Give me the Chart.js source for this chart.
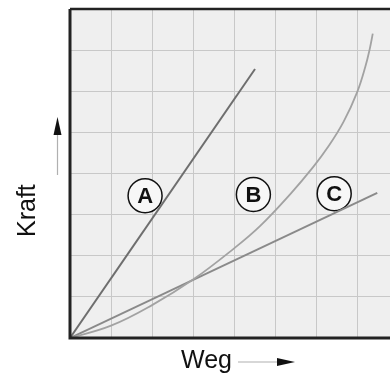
<!DOCTYPE html>
<html>
<head>
<meta charset="utf-8">
<script src="https://cdn.jsdelivr.net/npm/chart.js@4/dist/chart.umd.min.js"></script>
<style>
    html, body { margin: 0; padding: 0; background: #ffffff; }
    #wrap { width: 390px; height: 374px; }
</style>
</head>
<body>
<div id="wrap"><canvas id="kraftWeg" width="390" height="374"></canvas></div>
<script>
// Kraft-Weg curves, in grid units
var lineAx = [0, 4.51];
var lineAy = [0, 6.54];

var lineBx = [0, 1.0, 2.0, 3.0, 4.0, 4.63, 5.37, 5.93, 6.3, 6.67, 7.0, 7.2, 7.3, 7.38];
var lineBy = [0, 0.3, 0.8, 1.42, 2.18, 2.72, 3.5, 4.16, 4.66, 5.26, 5.98, 6.6, 7.0, 7.4];

var lineCx = [0, 7.49];
var lineCy = [0, 3.53];

var markerNames = ['A', 'B', 'C'];
var markerX = [1.83, 4.47, 6.44];
var markerY = [3.46, 3.49, 3.51];

var xTitle = 'Weg';
var yTitle = 'Kraft';

function toPoints(xs, ys) {
    var pts = [];
    xs.forEach(function (v, i) {
        pts.push({x: v, y: ys[i]});
    });
    return pts;
}

var plotBg = {
    id: 'plotBg',
    beforeDraw: function (chart) {
        var a = chart.chartArea;
        var ctx = chart.ctx;
        ctx.save();
        ctx.fillStyle = '#efefef';
        ctx.fillRect(a.left, a.top, a.right - a.left, a.bottom - a.top);
        ctx.restore();
    }
};

var frameAndTitles = {
    id: 'frameAndTitles',
    afterDatasetsDraw: function (chart) {
        var a = chart.chartArea;
        var ctx = chart.ctx;
        ctx.save();

        // frame: heavy left/bottom, lighter top
        ctx.strokeStyle = '#222222';
        ctx.lineWidth = 3;
        ctx.beginPath();
        ctx.moveTo(a.left, a.top);
        ctx.lineTo(a.left, a.bottom);
        ctx.lineTo(a.right, a.bottom);
        ctx.stroke();
        ctx.lineWidth = 2.5;
        ctx.beginPath();
        ctx.moveTo(a.left, a.top);
        ctx.lineTo(a.right, a.top);
        ctx.stroke();

        // marker letters
        var meta = chart.getDatasetMeta(3);
        ctx.fillStyle = '#111111';
        ctx.font = 'bold 22px "Liberation Sans", Arial, sans-serif';
        ctx.textAlign = 'center';
        ctx.textBaseline = 'middle';
        meta.data.forEach(function (el, i) {
            ctx.fillText(markerNames[i], el.x, el.y + 1);
        });

        // axis titles
        ctx.font = '25px "Liberation Sans", Arial, sans-serif';
        ctx.fillStyle = '#111111';
        ctx.textAlign = 'left';
        ctx.textBaseline = 'alphabetic';
        ctx.fillText(xTitle, 181, 368);

        ctx.save();
        ctx.translate(35, 237);
        ctx.rotate(-Math.PI / 2);
        ctx.fillText(yTitle, 0, 0);
        ctx.restore();

        // arrows
        ctx.strokeStyle = '#b0b0b0';
        ctx.lineWidth = 1.2;
        ctx.beginPath();
        ctx.moveTo(238, 362);
        ctx.lineTo(278, 362);
        ctx.moveTo(57.5, 175);
        ctx.lineTo(57.5, 134);
        ctx.stroke();

        ctx.fillStyle = '#111111';
        ctx.beginPath();
        ctx.moveTo(295, 362);
        ctx.lineTo(277, 358);
        ctx.lineTo(277, 366);
        ctx.closePath();
        ctx.fill();
        ctx.beginPath();
        ctx.moveTo(57.5, 117);
        ctx.lineTo(53.5, 135);
        ctx.lineTo(61.5, 135);
        ctx.closePath();
        ctx.fill();

        ctx.restore();
    }
};

new Chart(document.getElementById('kraftWeg').getContext('2d'), {
    type: 'scatter',
    data: {
        datasets: [
            {
                label: 'A',
                data: toPoints(lineAx, lineAy),
                showLine: true,
                borderColor: '#6e6e6e',
                borderWidth: 2,
                pointRadius: 0
            },
            {
                label: 'B',
                data: toPoints(lineBx, lineBy),
                showLine: true,
                tension: 0.4,
                borderColor: '#a2a2a2',
                borderWidth: 1.8,
                pointRadius: 0
            },
            {
                label: 'C',
                data: toPoints(lineCx, lineCy),
                showLine: true,
                borderColor: '#8a8a8a',
                borderWidth: 2,
                pointRadius: 0
            },
            {
                label: 'markers',
                data: toPoints(markerX, markerY),
                showLine: false,
                pointRadius: 17,
                pointBackgroundColor: '#f7f7f7',
                pointBorderColor: '#111111',
                pointBorderWidth: 1.5
            }
        ]
    },
    options: {
        responsive: false,
        animation: false,
        layout: {
            autoPadding: false,
            padding: {left: 70, top: 9, right: 0, bottom: 36}
        },
        scales: {
            x: {
                type: 'linear',
                min: 0,
                max: 7.8,
                ticks: {display: false, stepSize: 1},
                grid: {color: '#c8c8c8', lineWidth: 1, drawTicks: false},
                border: {display: false}
            },
            y: {
                type: 'linear',
                min: 0,
                max: 8,
                ticks: {display: false, stepSize: 1},
                grid: {color: '#c8c8c8', lineWidth: 1, drawTicks: false},
                border: {display: false}
            }
        },
        plugins: {
            legend: {display: false},
            tooltip: {enabled: false}
        }
    },
    plugins: [plotBg, frameAndTitles]
});
</script>
</body>
</html>
